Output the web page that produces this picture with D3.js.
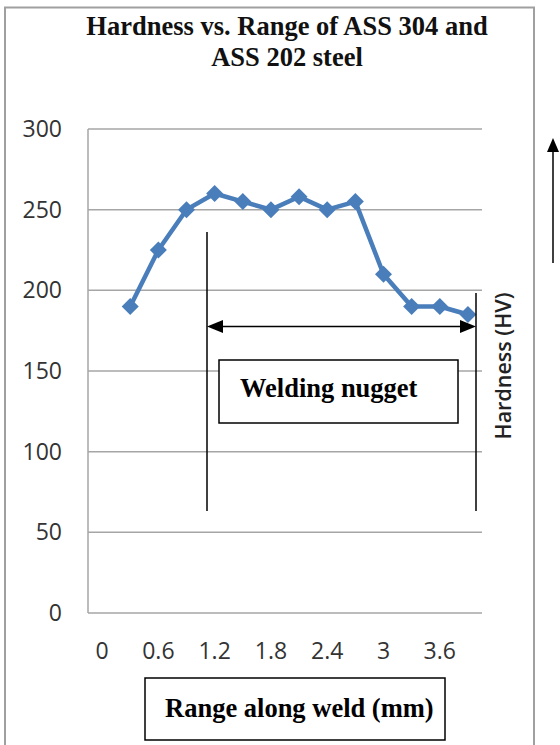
<!DOCTYPE html>
<html>
<head>
<meta charset="utf-8">
<script src="https://cdn.jsdelivr.net/npm/d3@7"></script>
<style>
  html, body { margin: 0; padding: 0; background: #fff; }
  svg { display: block; }
</style>
</head>
<body>
<svg id="chart" width="560" height="745"></svg>
<script>
// ---- data ----
const categories = ["0","0.3","0.6","0.9","1.2","1.5","1.8","2.1","2.4","2.7","3","3.3","3.6","3.9"];
const hardness   = [null,190,225,250,260,255,250,258,250,255,210,190,190,185];
const xTickLabels = ["0","0.6","1.2","1.8","2.4","3","3.6"];
const yTicks = [0,50,100,150,200,250,300];
const titleLines = ["Hardness vs. Range of ASS 304 and", "ASS 202 steel"];
const yTitle = "Hardness (HV)";
const xTitle = "Range along weld (mm)";
const nuggetLabel = "Welding nugget";

// ---- layout ----
const svg = d3.select("#chart");
const plot = {left: 88, right: 482, top: 129, bottom: 613};
const blue = "#4a7ebb";
const grid = "#a6a6a6";

const x = d3.scaleBand().domain(categories).range([plot.left, plot.right]).paddingInner(0).paddingOuter(0);
const y = d3.scaleLinear().domain([0, 300]).range([plot.bottom, plot.top]);

// outer frame (left, top, right)
svg.append("path")
  .attr("d", "M5,745 L5,7.5 L534,7.5 L534,745")
  .attr("fill", "none").attr("stroke", "#a0a0a0").attr("stroke-width", 2);

// title
svg.append("text")
  .attr("x", 287).attr("y", 35)
  .attr("text-anchor", "middle")
  .attr("font-family", "Liberation Serif, Times New Roman, serif")
  .attr("font-weight", "bold").attr("font-size", 26.5)
  .attr("fill", "#111")
  .selectAll("tspan").data(titleLines).join("tspan")
  .attr("x", 287).attr("dy", (d, i) => i === 0 ? 0 : 31)
  .text(d => d);

// gridlines
svg.append("g").selectAll("line").data(yTicks).join("line")
  .attr("x1", plot.left).attr("x2", plot.right)
  .attr("y1", d => y(d)).attr("y2", d => y(d))
  .attr("stroke", grid).attr("stroke-width", 1.5);

// vertical axis line
svg.append("line")
  .attr("x1", plot.left).attr("x2", plot.left)
  .attr("y1", plot.top).attr("y2", plot.bottom)
  .attr("stroke", grid).attr("stroke-width", 1.5);

// y axis labels
const yAxis = d3.axisLeft(y).tickValues(yTicks).tickSize(0).tickPadding(26).tickFormat(d3.format("d"));
const gy = svg.append("g").attr("transform", `translate(${plot.left},0)`).call(yAxis);
gy.select(".domain").remove();
gy.selectAll("text")
  .attr("font-family", "Open Sans, sans-serif").attr("font-size", 23)
  .attr("fill", "#333");

// x axis labels (every other category)
const xAxis = d3.axisBottom(x).tickValues(xTickLabels).tickSize(0).tickPadding(30);
const gx = svg.append("g").attr("transform", `translate(0,${plot.bottom})`).call(xAxis);
gx.select(".domain").remove();
gx.selectAll("text")
  .attr("font-family", "Open Sans, sans-serif").attr("font-size", 23)
  .attr("fill", "#333");

// series line
const pts = categories.map((c, i) => ({c, v: hardness[i]})).filter(d => d.v != null);
const line = d3.line()
  .x(d => x(d.c) + x.bandwidth() / 2)
  .y(d => y(d.v));
svg.append("path").datum(pts)
  .attr("d", line)
  .attr("fill", "none").attr("stroke", blue)
  .attr("stroke-width", 4.5).attr("stroke-linejoin", "round");

// diamond markers
svg.append("g").selectAll("path").data(pts).join("path")
  .attr("transform", d => `translate(${x(d.c) + x.bandwidth() / 2},${y(d.v)}) rotate(45)`)
  .attr("d", d3.symbol().type(d3.symbolSquare).size(145))
  .attr("fill", blue);

// ---- annotations ----
const ann = svg.append("g").attr("stroke", "#000").attr("stroke-width", 1.5).attr("fill", "none");
// vertical boundary lines
ann.append("line").attr("x1", 207).attr("x2", 207).attr("y1", 232).attr("y2", 511);
ann.append("line").attr("x1", 476).attr("x2", 476).attr("y1", 293).attr("y2", 511);
// double-headed arrow
ann.append("line").attr("x1", 220).attr("x2", 463).attr("y1", 326.5).attr("y2", 326.5);
svg.append("path").attr("d", "M207,326.5 L223,320 L223,333 Z").attr("fill", "#000");
svg.append("path").attr("d", "M476,326.5 L460,320 L460,333 Z").attr("fill", "#000");

// nugget box
svg.append("rect").attr("x", 219).attr("y", 360).attr("width", 239).attr("height", 63)
  .attr("fill", "#fff").attr("stroke", "#000").attr("stroke-width", 1.5);
svg.append("text").attr("x", 240).attr("y", 397)
  .attr("font-family", "Liberation Serif, Times New Roman, serif")
  .attr("font-weight", "bold").attr("font-size", 26.5).attr("fill", "#000")
  .text(nuggetLabel);

// x title box
svg.append("rect").attr("x", 145).attr("y", 678).attr("width", 300).attr("height", 62)
  .attr("fill", "#fff").attr("stroke", "#000").attr("stroke-width", 1.5);
svg.append("text").attr("x", 165).attr("y", 717)
  .attr("font-family", "Liberation Serif, Times New Roman, serif")
  .attr("font-weight", "bold").attr("font-size", 26.5).attr("fill", "#000")
  .text(xTitle);

// y title (rotated)
svg.append("text")
  .attr("transform", "translate(511,366) rotate(-90)")
  .attr("text-anchor", "middle")
  .attr("font-family", "Open Sans, sans-serif").attr("font-weight", 600)
  .attr("font-size", 21.5).attr("fill", "#222")
  .text(yTitle);

// upward arrow at right
svg.append("line").attr("x1", 553).attr("x2", 553).attr("y1", 263).attr("y2", 150)
  .attr("stroke", "#000").attr("stroke-width", 1.5);
svg.append("path").attr("d", "M553,138 L547,152 L559,152 Z").attr("fill", "#000");
</script>
</body>
</html>
